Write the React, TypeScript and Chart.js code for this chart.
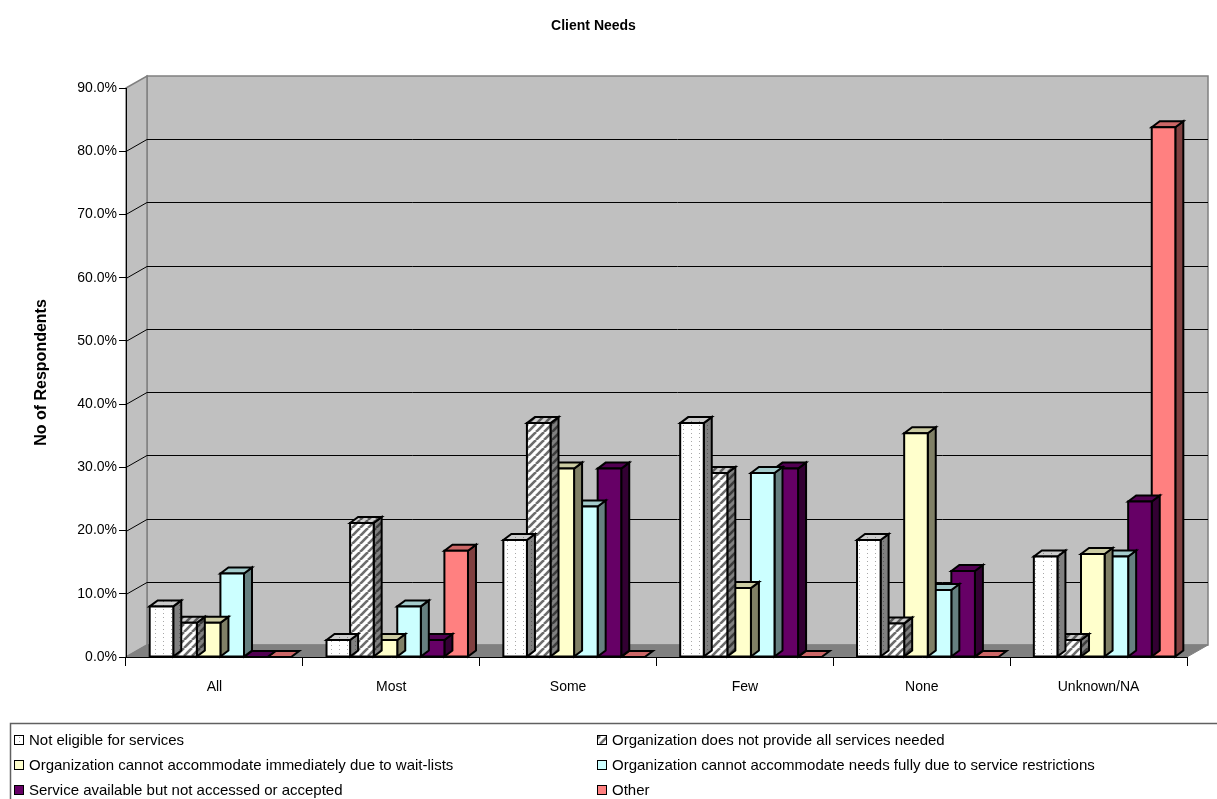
import React, { useEffect, useRef } from 'react';
import { Chart, registerables } from 'chart.js';

Chart.register(...registerables);

// ---- data ----
const categories = ['All', 'Most', 'Some', 'Few', 'None', 'Unknown/NA'];

const notEligible = [8.0, 2.7, 18.5, 37.0, 18.5, 15.9];
const notProvided = [5.4, 21.2, 37.0, 29.1, 5.3, 2.7];
const waitLists = [5.4, 2.7, 29.8, 10.9, 35.4, 16.3];
const restrictions = [13.2, 8.0, 23.8, 29.1, 10.6, 15.9];
const notAccessed = [0, 2.7, 29.8, 29.8, 13.6, 24.6];
const other = [0, 16.8, 0, 0, 0, 83.8];

const seriesNames = [
  'Not eligible for services',
  'Organization does not provide all services needed',
  'Organization cannot accommodate immediately due to wait-lists',
  'Organization cannot accommodate needs fully due to service restrictions',
  'Service available but not accessed or accepted',
  'Other',
];

const yTicks = [0, 10, 20, 30, 40, 50, 60, 70, 80, 90];
const yTickLabels = yTicks.map((v) => v.toFixed(1) + '%');

// ---- styling ----
const FONT = '"Liberation Sans", Arial, sans-serif';
const WALL_DEPTH = { dx: 21, dy: -12 };
const BAR_DEPTH = { dx: 8, dy: -6 };
const BAR_SHIFT = 6;

type Fill = string | CanvasPattern;
interface Faces { front: Fill; top: Fill; side: Fill }

function makeTile(w: number, h: number, paint: (g: CanvasRenderingContext2D) => void): CanvasPattern {
  const c = document.createElement('canvas');
  c.width = w;
  c.height = h;
  const g = c.getContext('2d') as CanvasRenderingContext2D;
  paint(g);
  return g.createPattern(c, 'repeat') as CanvasPattern;
}

function dots(bg: string, fg: string): CanvasPattern {
  return makeTile(8, 4, (g) => {
    g.fillStyle = bg;
    g.fillRect(0, 0, 8, 4);
    g.fillStyle = fg;
    g.fillRect(3, 1, 1, 1);
  });
}

function hatch(bg: string, fg: string): CanvasPattern {
  return makeTile(8, 8, (g) => {
    g.fillStyle = bg;
    g.fillRect(0, 0, 8, 8);
    g.strokeStyle = fg;
    g.lineWidth = 2.6;
    for (const k of [-8, 0, 8]) {
      g.beginPath();
      g.moveTo(k, 8);
      g.lineTo(k + 8, 0);
      g.stroke();
    }
  });
}

function buildFaces(): Faces[] {
  return [
    { front: dots('#ffffff', '#a8a8a8'), top: dots('#cccccc', '#8a8a8a'), side: dots('#808080', '#5a5a5a') },
    { front: hatch('#ffffff', '#6c6c6c'), top: hatch('#cccccc', '#5c5c5c'), side: hatch('#808080', '#3c3c3c') },
    { front: '#ffffcc', top: '#cccca3', side: '#808066' },
    { front: '#ccffff', top: '#a3cccc', side: '#668080' },
    { front: '#660066', top: '#520052', side: '#330033' },
    { front: '#ff8080', top: '#cc6666', side: '#804040' },
  ];
}

function poly(ctx: CanvasRenderingContext2D, pts: number[][], fill: Fill, stroke: string, lw: number) {
  ctx.beginPath();
  ctx.moveTo(pts[0][0], pts[0][1]);
  for (let i = 1; i < pts.length; i++) ctx.lineTo(pts[i][0], pts[i][1]);
  ctx.closePath();
  ctx.fillStyle = fill as any;
  ctx.fill();
  ctx.strokeStyle = stroke;
  ctx.lineWidth = lw;
  ctx.stroke();
}

export default function App() {
  const canvasRef = useRef<HTMLCanvasElement | null>(null);

  useEffect(() => {
    const canvas = canvasRef.current;
    if (!canvas) return;
    const faces = buildFaces();
    const series = [notEligible, notProvided, waitLists, restrictions, notAccessed, other];

    const box3d = {
      id: 'box3d',
      beforeDraw(chart: any) {
        const { ctx, chartArea: a, scales } = chart;
        const y = scales.y;
        const { dx, dy } = WALL_DEPTH;
        const yTop = y.getPixelForValue(yTicks[yTicks.length - 1]);
        const yBase = y.getPixelForValue(0);
        ctx.save();
        // back wall
        poly(ctx, [[a.left + dx, yTop + dy], [a.right + dx, yTop + dy], [a.right + dx, yBase + dy], [a.left + dx, yBase + dy]], '#c0c0c0', '#808080', 1.5);
        // side wall
        poly(ctx, [[a.left, yTop], [a.left + dx, yTop + dy], [a.left + dx, yBase + dy], [a.left, yBase]], '#c0c0c0', '#808080', 1.5);
        // floor
        poly(ctx, [[a.left, yBase], [a.left + dx, yBase + dy], [a.right + dx, yBase + dy], [a.right, yBase]], '#808080', '#808080', 1);
        // grid lines on side and back wall
        ctx.strokeStyle = '#000000';
        ctx.lineWidth = 1;
        for (const v of yTicks) {
          if (v === 0 || v === yTicks[yTicks.length - 1]) continue;
          const py = Math.round(y.getPixelForValue(v)) + 0.5;
          ctx.beginPath();
          ctx.moveTo(a.left, py);
          ctx.lineTo(a.left + dx, py + dy);
          ctx.lineTo(a.right + dx, py + dy);
          ctx.stroke();
        }
        ctx.restore();
      },
      beforeDatasetDraw(chart: any, args: any) {
        const { ctx } = chart;
        const f = faces[args.index];
        const { dx, dy } = BAR_DEPTH;
        ctx.save();
        ctx.lineJoin = 'miter';
        args.meta.data.forEach((bar: any) => {
          const p = bar.getProps(['x', 'y', 'base', 'width'], true);
          const left = p.x - p.width / 2 + BAR_SHIFT;
          const right = left + p.width;
          const top = Math.min(p.y, p.base);
          const base = p.base;
          const tall = base - top > 0.5;
          if (tall) {
            poly(ctx, [[right, top], [right + dx, top + dy], [right + dx, base + dy], [right, base]], f.side, '#000', 2);
          }
          poly(ctx, [[left, top], [left + dx, top + dy], [right + dx, top + dy], [right, top]], f.top, '#000', 2);
          if (tall) {
            poly(ctx, [[left, top], [right, top], [right, base], [left, base]], f.front, '#000', 2);
          }
        });
        ctx.restore();
        return false;
      },
      afterDraw(chart: any) {
        const { ctx } = chart;
        ctx.save();
        // legend frame
        ctx.strokeStyle = '#606060';
        ctx.lineWidth = 1.5;
        ctx.beginPath();
        ctx.moveTo(10.5, 820);
        ctx.lineTo(10.5, 723.5);
        ctx.lineTo(1230, 723.5);
        ctx.stroke();
        const colX = [14, 597];
        const rowY = [740, 765, 790];
        ctx.font = '15px ' + FONT;
        ctx.textBaseline = 'middle';
        ctx.textAlign = 'left';
        seriesNames.forEach((name, i) => {
          const x = colX[i % 2];
          const yy = rowY[Math.floor(i / 2)];
          ctx.fillStyle = faces[i].front as any;
          ctx.fillRect(x, yy - 5, 10, 10);
          ctx.strokeStyle = '#000';
          ctx.lineWidth = 1;
          ctx.strokeRect(x + 0.5, yy - 4.5, 9, 9);
          ctx.fillStyle = '#000';
          ctx.fillText(name, x + 15, yy + 1);
        });
        ctx.restore();
      },
    };

    const chart = new Chart(canvas, {
      type: 'bar',
      data: {
        labels: categories,
        datasets: series.map((values, i) => ({
          label: seriesNames[i],
          data: values,
          backgroundColor: faces[i].front as any,
          borderColor: '#000',
          borderWidth: 2,
          borderSkipped: false,
          categoryPercentage: 0.8,
          barPercentage: 1.0,
        })),
      },
      options: {
        responsive: false,
        animation: false,
        devicePixelRatio: 1,
        layout: { padding: { left: 0, right: 30, top: 0, bottom: 0 } },
        events: [],
        plugins: {
          legend: { display: false },
          tooltip: { enabled: false },
          title: {
            display: true,
            text: 'Client Needs',
            color: '#000',
            font: { family: FONT, size: 14, weight: 'bold' },
            padding: { top: 18, bottom: 53.2 },
          },
        },
        scales: {
          x: {
            type: 'category',
            offset: true,
            grid: { offset: true, drawOnChartArea: false, drawTicks: true, tickLength: 9, color: '#000' },
            border: { display: true, color: '#000', width: 1 },
            ticks: { color: '#000', font: { family: FONT, size: 14 }, padding: 13, maxRotation: 0, autoSkip: false },
            afterFit(scale: any) {
              scale.height = 142;
            },
          },
          y: {
            min: 0,
            max: 90,
            afterBuildTicks(scale: any) {
              scale.ticks = yTicks.map((v) => ({ value: v }));
            },
            grid: { drawOnChartArea: false, drawTicks: true, tickLength: 7, color: '#000' },
            border: { display: true, color: '#000', width: 1 },
            ticks: {
              color: '#000',
              font: { family: FONT, size: 14 },
              padding: 2,
              callback: (_v: any, i: number) => yTickLabels[i],
            },
            title: {
              display: true,
              text: 'No of Respondents',
              color: '#000',
              font: { family: FONT, size: 16, weight: 'bold' },
              padding: { top: 32, bottom: 0 },
            },
            afterFit(scale: any) {
              scale.width = 126;
            },
          },
        },
      },
      plugins: [box3d],
    } as any);

    return () => chart.destroy();
  }, []);

  return (
    <div style={{ position: 'absolute', left: 0, top: 0, width: 1217, height: 799, background: '#ffffff' }}>
      <canvas ref={canvasRef} width={1217} height={799} style={{ display: 'block' }} />
    </div>
  );
}
